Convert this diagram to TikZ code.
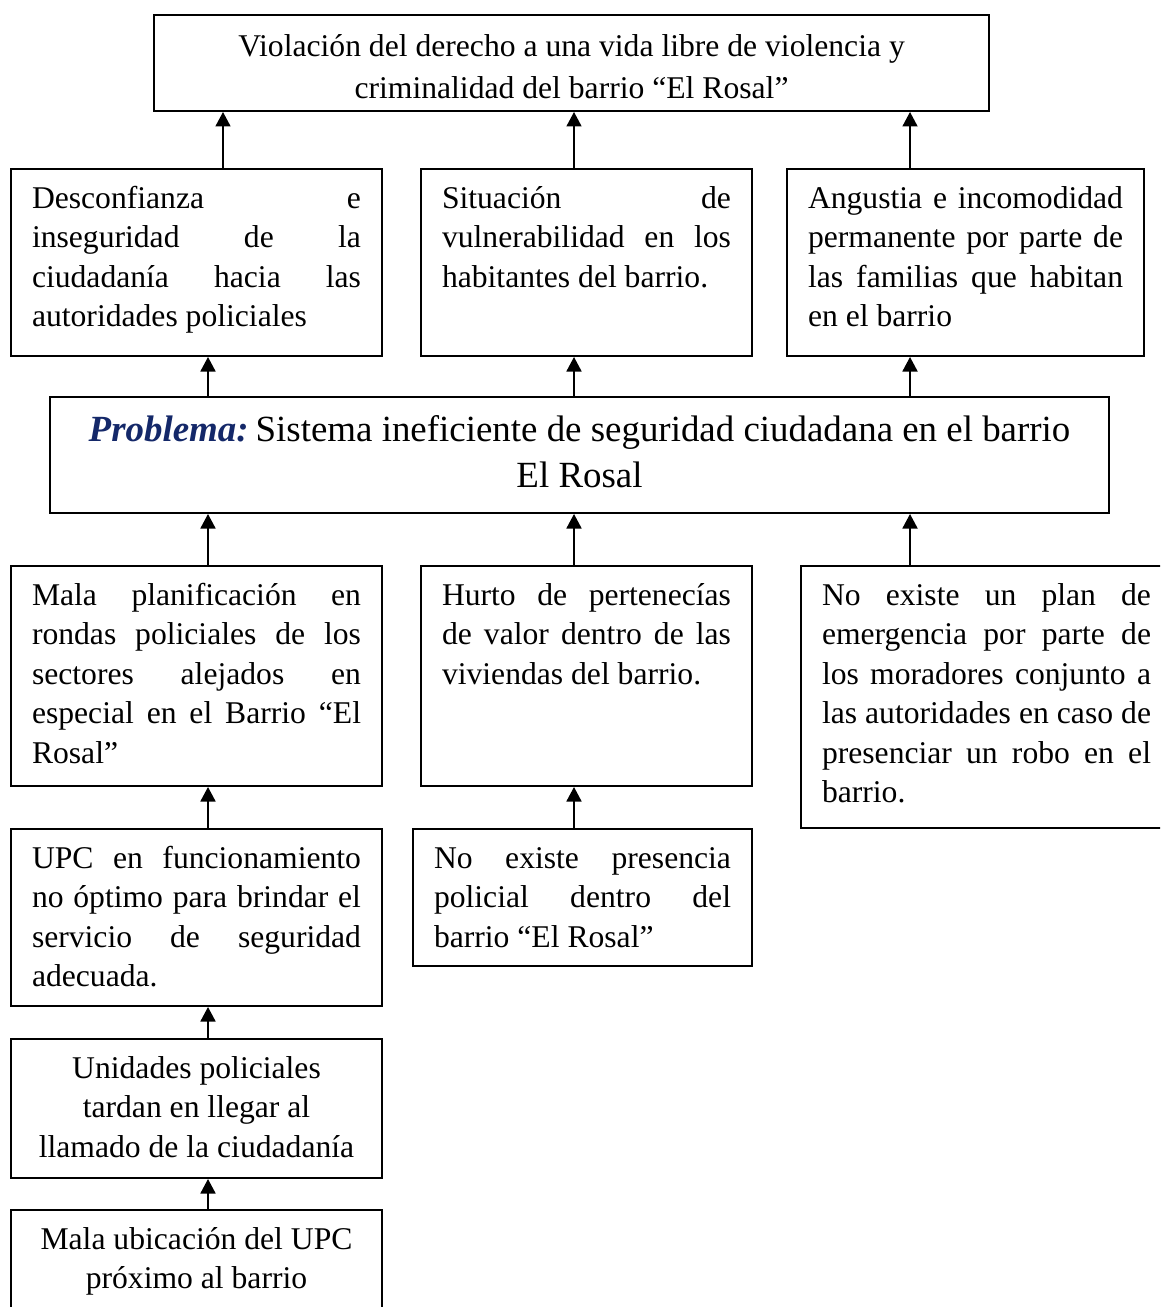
\documentclass[tikz,border=0pt]{standalone}
\usepackage{fontspec}
\setmainfont{Liberation Serif}
\usepackage{xcolor}
\usetikzlibrary{arrows.meta}
\definecolor{probblue}{RGB}{20,40,105}
\newcommand{\boxfont}{\fontsize{18pt}{22.4pt}\selectfont}
% justified / centered text of a box of width #1 and height #2 (mm)
\newcommand{\jtext}[3]{\parbox[t][\dimexpr#2mm-4.8mm\relax][t]{\dimexpr#1mm-8.4mm\relax}{\boxfont\hyphenpenalty=10000\hbadness=10000\strut #3}}
\newcommand{\ctext}[4][\boxfont]{\parbox[t][\dimexpr#3mm-4.8mm\relax][t]{\dimexpr#2mm-8.4mm\relax}{#1\centering\strut #4}}

\begin{document}
\begin{tikzpicture}[x=0.2mm,y=-0.2mm,
  box/.style={draw, line width=0.4mm, inner xsep=4.2mm, inner ysep=2.4mm, anchor=north west},
  arr/.style={-{Triangle[length=2.9mm,width=3mm]}, line width=0.35mm}]
\useasboundingbox (0,0) rectangle (1160,1307);
\clip (0,0) rectangle (1160,1307);
\coordinate (X0) at (223,0);
\coordinate (X1) at (208,0);
\coordinate (X2) at (574,0);
\coordinate (X3) at (910,0);
% efectos
\node[box] (F) at (153,14) {\ctext[\fontsize{18pt}{23.9pt}\selectfont]{167}{19.2}{Violación del derecho a una vida libre de violencia y\\criminalidad del barrio “El Rosal”}};
\node[box] (E1) at (10,168) {\jtext{74.2}{37.4}{Desconfianza e\linebreak inseguridad de la\linebreak ciudadanía hacia las\linebreak autoridades policiales}};
\node[box] (E2) at (420,168) {\jtext{66.2}{37.4}{Situación de\linebreak vulnerabilidad en los\linebreak habitantes del barrio.}};
\node[box] (E3) at (786,168) {\jtext{71.4}{37.4}{Angustia e incomodidad\linebreak permanente por parte de\linebreak las familias que habitan\linebreak en el barrio}};
% problema
\node[box] (P) at (49,396) {\ctext[\fontsize{21pt}{26.2pt}\selectfont]{211.8}{23.2}{{\bfseries\itshape\color{probblue}Problema:}\kern-3pt{} Sistema ineficiente de seguridad ciudadana en el barrio\\El Rosal}};
% causas
\node[box] (C1) at (10,565) {\jtext{74.2}{44}{Mala planificación en\linebreak rondas policiales de los\linebreak sectores alejados en\linebreak especial en el Barrio “El\linebreak Rosal”}};
\node[box] (C2) at (420,565) {\jtext{66.2}{44}{Hurto de pertenecías\linebreak de valor dentro de las\linebreak viviendas del barrio.}};
\node[box] (C3) at (800,565) {\jtext{74.2}{52.4}{No existe un plan de\linebreak emergencia por parte de\linebreak los moradores conjunto a\linebreak las autoridades en caso de\linebreak presenciar un robo en el\linebreak barrio.}};
\node[box] (C11) at (10,828) {\jtext{74.2}{35.4}{UPC en funcionamiento\linebreak no óptimo para brindar el\linebreak servicio de seguridad\linebreak adecuada.}};
\node[box] (C21) at (412,828) {\jtext{67.8}{27.4}{No existe presencia\linebreak policial dentro del\linebreak barrio “El Rosal”}};
\node[box] (C12) at (10,1038) {\ctext{74.2}{27.8}{Unidades policiales\\tardan en llegar al\\llamado de la ciudadanía}};
\node[box] (C13) at (10,1209) {\ctext{74.2}{26}{Mala ubicación del UPC\\próximo al barrio}};
% flechas
\draw[arr] (E1.north -| X0) -- (F.south -| X0);
\draw[arr] (E2.north -| X2) -- (F.south -| X2);
\draw[arr] (E3.north -| X3) -- (F.south -| X3);
\draw[arr] (P.north -| X1) -- (E1.south -| X1);
\draw[arr] (P.north -| X2) -- (E2.south -| X2);
\draw[arr] (P.north -| X3) -- (E3.south -| X3);
\draw[arr] (C1.north -| X1) -- (P.south -| X1);
\draw[arr] (C2.north -| X2) -- (P.south -| X2);
\draw[arr] (C3.north -| X3) -- (P.south -| X3);
\draw[arr] (C11.north -| X1) -- (C1.south -| X1);
\draw[arr] (C21.north -| X2) -- (C2.south -| X2);
\draw[arr] (C12.north -| X1) -- (C11.south -| X1);
\draw[arr] (C13.north -| X1) -- (C12.south -| X1);
\end{tikzpicture}
\end{document}
